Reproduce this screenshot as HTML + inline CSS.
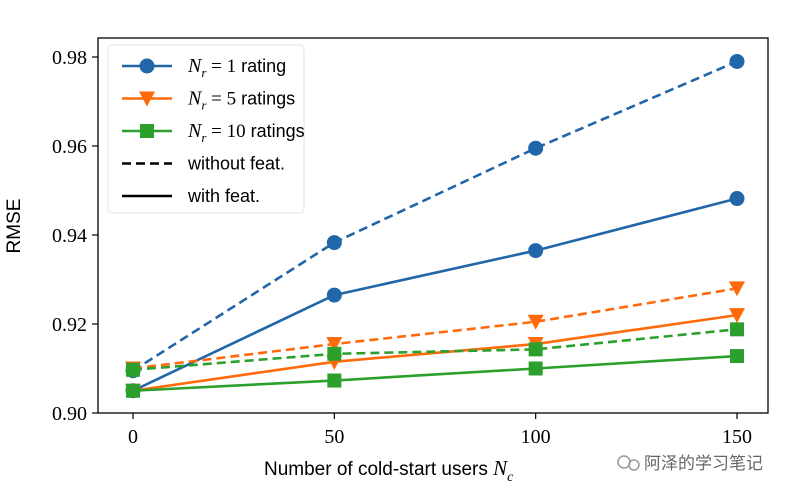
<!DOCTYPE html>
<html><head><meta charset="utf-8"><style>
body{margin:0;background:#fff;}
svg{display:block;}
</style></head><body>
<svg id="chart" width="795" height="500" viewBox="0 0 795 500" xmlns="http://www.w3.org/2000/svg">
<rect x="0" y="0" width="795" height="500" fill="#fff"/>
<g id="plot"></g>
<rect x="98" y="38" width="670" height="375" fill="none" stroke="#000" stroke-width="1.3"/>
<g id="axes"></g>
<text x="20" y="226" font-family="Liberation Sans, sans-serif" font-size="19" text-anchor="middle" transform="rotate(-90 20 226)">RMSE</text>
<text x="264" y="475" font-family="Liberation Sans, sans-serif" font-size="19">Number of cold-start users <tspan font-family="Liberation Serif, serif" font-style="italic" font-size="21">N</tspan><tspan font-family="Liberation Serif, serif" font-style="italic" font-size="14" dy="6">c</tspan></text>
<g id="legend"></g>
<g>
<circle cx="624" cy="462" r="6" fill="none" stroke="#999" stroke-width="1.5"/>
<circle cx="634" cy="465" r="5" fill="none" stroke="#999" stroke-width="1.5"/>
<text x="644" y="469" font-family="Liberation Sans, 'Noto Sans CJK SC', sans-serif" font-size="17" fill="#666">阿泽的学习笔记</text>
</g>
</svg>
<script>
const categories=[0,50,100,150];
const yTicks=[0.90,0.92,0.94,0.96,0.98];
const yTickLabels=["0.90","0.92","0.94","0.96","0.98"];
const blueDashed=[0.9095,0.9383,0.9595,0.979];
const blueSolid=[0.905,0.9265,0.9365,0.9482];
const orangeDashed=[0.9100,0.9155,0.9205,0.928];
const orangeSolid=[0.905,0.9115,0.9155,0.922];
const greenDashed=[0.9097,0.9133,0.9143,0.9188];
const greenSolid=[0.905,0.9073,0.9100,0.9128];

const NS="http://www.w3.org/2000/svg";
const xs=v=>133+(v-0)*(737-133)/150;
const ys=v=>413-(v-0.90)*(413-57)/0.08;
const BLUE="#2166a8",ORANGE="#ff6a0a",GREEN="#2ca02c";
function mk(t,a,p){const e=document.createElementNS(NS,t);for(const k in a)e.setAttribute(k,a[k]);p.appendChild(e);return e;}
function marker(type,cx,cy,color,p){
  let e;
  if(type==='o') e=mk('circle',{cx:cx,cy:cy,r:7.5,fill:color},p);
  else if(type==='v') e=mk('polygon',{points:`${cx-8},${cy-7} ${cx+8},${cy-7} ${cx},${cy+8}`,fill:color},p);
  else e=mk('rect',{x:cx-7,y:cy-7,width:14,height:14,fill:color},p);
  return e;
}
const axes=document.getElementById('axes');
yTicks.forEach((v,i)=>{
  const t=mk('line',{x1:92,x2:98,y1:ys(v),y2:ys(v),stroke:'#000','stroke-width':1.2},axes);
  
  
  const l=mk('text',{x:87,y:ys(v)+7,'text-anchor':'end','font-family':'Liberation Serif, serif','font-size':20},axes);
  l.textContent=yTickLabels[i];
  
  
});
categories.forEach(c=>{
  const t=mk('line',{x1:xs(c),x2:xs(c),y1:413,y2:419,stroke:'#000','stroke-width':1.2},axes);
  
  
  const l=mk('text',{x:xs(c),y:443,'text-anchor':'middle','font-family':'Liberation Serif, serif','font-size':20},axes);
  l.textContent=String(c);
  
  
});
const plot=document.getElementById('plot');
const series=[
 [blueDashed,BLUE,'o',true,'series-nr1-without-feat'],
 [blueSolid,BLUE,'o',false,'series-nr1-with-feat'],
 [orangeDashed,ORANGE,'v',true,'series-nr5-without-feat'],
 [orangeSolid,ORANGE,'v',false,'series-nr5-with-feat'],
 [greenDashed,GREEN,'s',true,'series-nr10-without-feat'],
 [greenSolid,GREEN,'s',false,'series-nr10-with-feat']];
series.forEach(([vals,col,m,dash,name])=>{
  const g=mk('g',{},plot);
  
  
  const pts=vals.map((v,i)=>xs(categories[i])+','+ys(v)).join(' ');
  const a={points:pts,fill:'none',stroke:col,'stroke-width':2.6};
  if(dash)a['stroke-dasharray']='9,5';
  mk('polyline',a,g);
  vals.forEach((v,i)=>{
    const e=marker(m,xs(categories[i]),ys(v),col,g);
    
    
  });
});
const lg=document.getElementById('legend');
mk('rect',{x:108,y:45,width:196,height:168,rx:4,fill:'#fff',stroke:'#e4e4e4','stroke-width':1},lg);
const entries=[[BLUE,'o',false,'1 rating'],[ORANGE,'v',false,'5 ratings'],[GREEN,'s',false,'10 ratings'],['#000',null,true,'without feat.'],['#000',null,false,'with feat.']];
entries.forEach(([col,m,dash,txt],i)=>{
  const y=66+i*32.5;
  const g=mk('g',{},lg);
  
  
  const a={x1:122,x2:172,y1:y,y2:y,stroke:col,'stroke-width':2.6};
  if(dash)a['stroke-dasharray']='9,5';
  mk('line',a,g);
  if(m)marker(m,147,y,col,g);
  const t=mk('text',{x:188,y:y+6,'font-size':18,'font-family':'Liberation Sans, sans-serif'},g);
  if(m){
    t.innerHTML='<tspan font-family="Liberation Serif, serif" font-style="italic" font-size="20">N</tspan><tspan font-family="Liberation Serif, serif" font-style="italic" font-size="13" dy="5">r</tspan><tspan font-family="Liberation Serif, serif" font-size="19" dy="-5"> = '+txt.split(' ')[0]+'</tspan> '+txt.split(' ')[1];
  } else t.textContent=txt;
});
</script>
</body></html>
